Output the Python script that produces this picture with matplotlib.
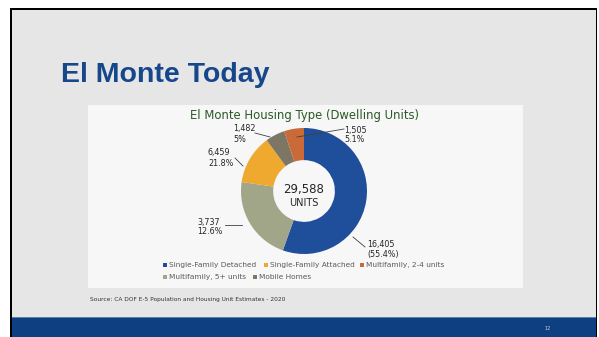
import matplotlib.pyplot as plt
from matplotlib.patches import Rectangle

W, H = 599, 337

# Housing units by type, in clockwise order from 12 o'clock
segments = ["Single-Family Detached", "Multifamily, 5+ units",
            "Single-Family Attached", "Mobile Homes", "Multifamily, 2-4 units"]
units = [16405, 6459, 3737, 1482, 1505]
colors = ["#1f4f9a", "#a0a687", "#eea92e", "#7d7664", "#c96a38"]

# Data label text as printed on the chart
label_units = [16405, 3737, 6459, 1482, 1505]
label_pcts = ["(55.4%)", "12.6%", "21.8%", "5%", "5.1%"]

legend_order = ["Single-Family Detached", "Single-Family Attached",
                "Multifamily, 2-4 units", "Multifamily, 5+ units", "Mobile Homes"]

total = sum(units)


def py(y):
    # pixel rows are counted from the top
    return H - y


fig = plt.figure(figsize=(W / 100, H / 100), dpi=100)
ax = fig.add_axes([0, 0, 1, 1])
ax.set_axis_off()

# slide frame, background and footer band
ax.add_patch(Rectangle((0, 0), W, H, facecolor="white", zorder=0))
ax.add_patch(Rectangle((10, 0), W - 12, py(8), facecolor="black", zorder=0))
ax.add_patch(Rectangle((12, 0), W - 15, py(10), facecolor="#e6e6e6", zorder=0))
ax.add_patch(Rectangle((12, 0), W - 15, py(317), facecolor="#0e3f80", zorder=1))
ax.add_patch(Rectangle((12, py(318)), W - 15, 1.2, facecolor="#5a7fb0", zorder=1))
ax.text(548, py(329), "12", fontsize=3.5, color="#c8d4e6", ha="center", va="center")

# slide title
ax.text(61, py(75), "El Monte Today", fontsize=20.5, fontweight="bold",
        family="Liberation Sans", color="#17478b", ha="left", va="center")

# chart card
ax.add_patch(Rectangle((88, py(288)), 435, 183, facecolor="#f7f7f7",
                       edgecolor="none", zorder=1))
ax.text(305, py(115), "El Monte Housing Type (Dwelling Units)", fontsize=8.4,
        color="#2b5a26", ha="center", va="center", zorder=3)

# donut
cx, cy, r_out = 304, py(191), 63
ax.pie(units, colors=colors, startangle=90, counterclock=False,
       center=(cx, cy), radius=r_out, frame=True,
       wedgeprops=dict(width=r_out * 0.51, edgecolor="none", zorder=2))
ax.set_xlim(0, W)
ax.set_ylim(0, H)
ax.set_aspect("auto")
ax.set_axis_off()

ax.text(cx, py(189), f"{total:,}", fontsize=8.5, color="#262626",
        ha="center", va="center", zorder=3)
ax.text(cx, py(203), "UNITS", fontsize=7, color="#262626",
        ha="center", va="center", zorder=3)

# data labels with leader lines
label_pos = [(367, 245, "left"), (197, 222, "left"), (208, 153, "left"),
             (233, 129, "left"), (344, 130, "left")]
leaders = [((353, 237), (365, 247)), ((225, 225), (242, 225)),
           ((235, 158), (243, 166)), ((255, 133), (270, 137)),
           ((344, 129), (297, 137))]
for n, pct, (x, y, ha), (p0, p1) in zip(label_units, label_pcts, label_pos, leaders):
    ax.text(x, py(y), f"{n:,}", fontsize=5.8, color="#262626",
            ha=ha, va="center", zorder=3)
    ax.text(x, py(y + 10), pct, fontsize=5.8, color="#262626",
            ha=ha, va="center", zorder=3)
    ax.plot([p0[0], p1[0]], [py(p0[1]), py(p1[1])], color="#404040",
            lw=0.6, zorder=4)

# legend, laid out in two rows
legend_pos = [(165, 265), (266, 265), (362, 265), (165, 277), (255, 277)]
color_of = dict(zip(segments, colors))
for name, (x, y) in zip(legend_order, legend_pos):
    ax.add_patch(Rectangle((x - 2, py(y) - 2), 4, 4, facecolor=color_of[name],
                           edgecolor="none", zorder=3))
    ax.text(x + 4, py(y), name, fontsize=5.3, color="#595959",
            ha="left", va="center", zorder=3)

# source note
ax.text(90, py(300), "Source: CA DOF E-5 Population and Housing Unit Estimates - 2020",
        fontsize=4.2, color="#333333", ha="left", va="center", zorder=3)

fig.savefig("out.png", dpi=100)
